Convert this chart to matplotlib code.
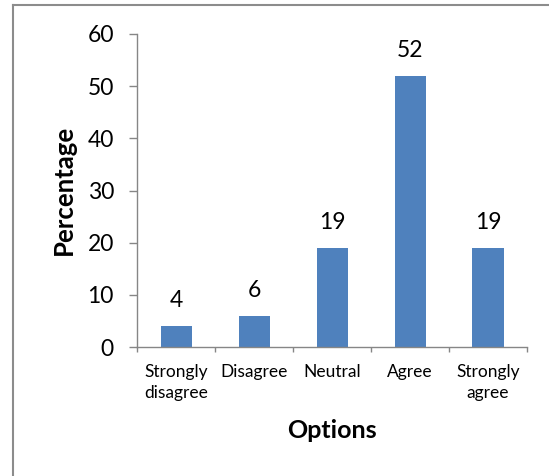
import matplotlib
matplotlib.use("Agg")
import matplotlib.pyplot as plt
from matplotlib.lines import Line2D

# Survey responses
categories = ["Strongly\ndisagree", "Disagree", "Neutral", "Agree", "Strongly\nagree"]
percentages = [4, 6, 19, 52, 19]
y_ticks = [0, 10, 20, 30, 40, 50, 60]

plt.rcParams["font.family"] = ["Lato", "DejaVu Sans"]

W, H = 549, 476
fig = plt.figure(figsize=(W / 100, H / 100), dpi=100)
ax = fig.add_axes([137.3 / W, 1 - 347 / H, (527 - 137.3) / W, (347 - 34) / H])

x = list(range(len(categories)))
bars = ax.bar(x, percentages, width=0.4, color="#4f81bd", zorder=2)

for rect, v in zip(bars, percentages):
    ax.annotate(str(v), (rect.get_x() + rect.get_width() / 2, rect.get_height()),
                xytext=(0, 13.5), textcoords="offset points",
                ha="center", va="baseline", fontsize=16.5, color="black")

ax.set_xlim(-0.5, len(categories) - 0.5)
ax.set_ylim(0, 60)
ax.set_yticks(y_ticks)
ax.tick_params(axis="y", labelsize=16.5, length=5.8, width=1, color="#868686",
               pad=11, direction="out")

ax.set_xticks(x)
ax.set_xticklabels(categories, fontsize=12.5, linespacing=1.38)
ax.tick_params(axis="x", length=0, pad=12)
# boundary ticks between categories
ax.set_xticks([i - 0.5 for i in range(len(categories) + 1)], minor=True)
ax.tick_params(axis="x", which="minor", length=3.8, width=1, color="#868686",
               direction="out")

for side in ["top", "right"]:
    ax.spines[side].set_visible(False)
for side in ["left", "bottom"]:
    ax.spines[side].set_color("#868686")
    ax.spines[side].set_linewidth(1)

ax.set_ylabel("Percentage", fontsize=18.5, fontweight="bold")
ax.yaxis.set_label_coords(64 / W, 1 - 190 / H, transform=fig.transFigure)
ax.set_xlabel("Options", fontsize=18, fontweight="bold")
ax.xaxis.set_label_coords(332 / W, 1 - 430 / H, transform=fig.transFigure)
ax.xaxis.label.set_verticalalignment("center")
ax.yaxis.label.set_verticalalignment("center")

# chart area frame (only left and top edges fall inside the picture)
fig.add_artist(Line2D([12.5 / W, 12.5 / W], [0, 1 - 4.5 / H], transform=fig.transFigure,
                      color="#8c8c8c", lw=1.5))
fig.add_artist(Line2D([12.5 / W, 1], [1 - 4.5 / H, 1 - 4.5 / H], transform=fig.transFigure,
                      color="#8c8c8c", lw=1.5))

fig.savefig("out.png", dpi=100)
